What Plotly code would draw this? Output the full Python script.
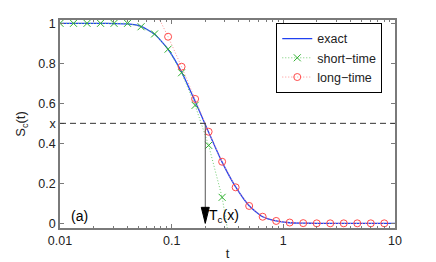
import plotly.graph_objects as go

# ---- data ----
t_grid = [0.0100, 0.01321, 0.01746, 0.02307, 0.03048, 0.04027, 0.05321, 0.07031,
          0.09290, 0.1227, 0.1622, 0.2143, 0.2831, 0.3741, 0.4943, 0.6531,
          0.8630, 1.140, 1.507, 1.991, 2.630, 3.475, 4.592, 6.068, 8.017]

exact_t = t_grid + [10.0]
exact_vals = [1.0, 1.0, 1.0, 1.0, 0.999, 0.997, 0.985, 0.945, 0.870, 0.757,
              0.610, 0.456, 0.306, 0.182, 0.088, 0.033, 0.012, 0.003, 0.001,
              0.0, 0.0, 0.0, 0.0, 0.0, 0.0, 0.0]

short_t = t_grid[:14]
short_vals = [1.0, 1.0, 1.0, 1.0, 1.0, 1.0, 0.983, 0.947, 0.871, 0.753,
              0.590, 0.390, 0.130, -0.27]

long_t = t_grid[7:]
long_vals = [1.07, 0.933, 0.783, 0.622, 0.458, 0.308, 0.180, 0.087, 0.033,
             0.012, 0.004, 0.001, 0.0, 0.0, 0.0, 0.0, 0.0, 0.0]

x_level = 0.5
Tc = 0.2

x_tickvals = [0.01, 0.1, 1, 10]
x_ticktext = ["0.01", "0.1", "1", "10"]
x_minor = [m * d for d in (0.01, 0.1, 1) for m in range(2, 10)]
y_tickvals = [0, 0.2, 0.4, 0.5, 0.6, 0.8, 1]
y_ticktext = ["0", "0.2", "0.4", "x", "0.6", "0.8", "1"]

FONT = "Liberation Sans, Arial, sans-serif"
AX = "#7a7a7a"

fig = go.Figure()
fig.add_trace(go.Scatter(x=exact_t, y=exact_vals, mode="lines", name="exact",
                         line=dict(color="#2040f0", width=1.3, shape="spline", smoothing=0.6)))
fig.add_trace(go.Scatter(x=short_t, y=short_vals, mode="lines+markers", name="short−time",
                         line=dict(color="#70cc70", width=1, dash="1px,2px"),
                         marker=dict(symbol="x-thin-open", size=7,
                                     line=dict(color="#30b030", width=1), color="#30b030")))
fig.add_trace(go.Scatter(x=long_t, y=long_vals, mode="lines+markers", name="long−time",
                         line=dict(color="#ff9090", width=1, dash="1px,2px"),
                         marker=dict(symbol="circle-open", size=7,
                                     line=dict(color="#ff4a4a", width=1), color="#ff4a4a")))

# dashed level line at S = x
fig.add_shape(type="line", xref="paper", yref="y", x0=0, x1=1, y0=x_level, y1=x_level,
              line=dict(color="#333333", width=1, dash="6px,4px"), layer="above")
# vertical line from the crossing down to the axis
fig.add_shape(type="line", xref="x", yref="y", x0=Tc, x1=Tc, y0=x_level, y1=0,
              line=dict(color="#555555", width=1), layer="above")
# arrow head
fig.add_shape(type="path", xref="x", yref="y", xsizemode="pixel", ysizemode="pixel",
              xanchor=Tc, yanchor=0, path="M-4,16 L4,16 L0,0 Z",
              fillcolor="black", line=dict(color="black", width=1), layer="above")

fig.add_annotation(x=-0.685, y=0.037, xref="x", yref="y", xanchor="left",
                   text="T<sub>c</sub>(x)", showarrow=False,
                   font=dict(family=FONT, size=14, color="black"))
fig.add_annotation(xref="paper", yref="y", x=0.027, y=0.037, xanchor="left",
                   text="(a)", showarrow=False, font=dict(family=FONT, size=14, color="black"))

# page body has an 8px margin, so margins are shifted by 8px
fig.update_layout(
    width=436, height=262,
    margin=dict(l=52, r=49, t=12, b=42),
    paper_bgcolor="white", plot_bgcolor="white",
    font=dict(family=FONT, size=12.5, color="#222222"),
    showlegend=True,
    legend=dict(x=0.962, y=0.986, xanchor="right", yanchor="top",
                bgcolor="white", bordercolor="black", borderwidth=1,
                font=dict(family=FONT, size=12.5, color="#222222"),
                tracegroupgap=0, itemwidth=30),
)
fig.update_xaxes(type="log", range=[-2, 1], tickvals=x_tickvals, ticktext=x_ticktext,
                 ticks="inside", ticklen=4, tickcolor=AX, showgrid=False, zeroline=False,
                 showline=True, linecolor=AX, linewidth=1.5, mirror="ticks", automargin=False,
                 minor=dict(tickvals=x_minor, ticks="inside", ticklen=2.5, tickcolor=AX),
                 title=dict(text="t", font=dict(family=FONT, size=13, color="#222222"), standoff=2))
fig.update_yaxes(range=[-0.0233, 1.0167], tickvals=y_tickvals, ticktext=y_ticktext,
                 ticks="inside", ticklen=4, tickcolor=AX, showgrid=False, zeroline=False,
                 showline=True, linecolor=AX, linewidth=1.5, mirror="ticks", automargin=False,
                 title=dict(text="S<sub>c</sub>(t)", font=dict(family=FONT, size=13, color="#222222"),
                            standoff=10))

fig.write_html("out.html")
